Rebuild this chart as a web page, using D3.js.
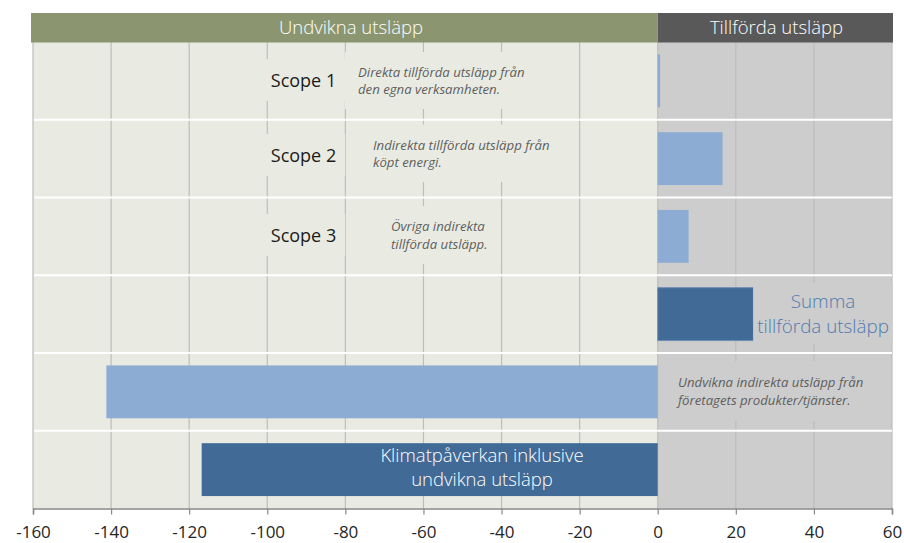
<!DOCTYPE html>
<html><head><meta charset="utf-8">
<script src="https://cdn.jsdelivr.net/npm/d3@7"></script>
<style>body{margin:0;background:#fff}svg{display:block}text{font-family:"Open Sans","Noto Sans",sans-serif}</style>
</head><body><svg id="c" width="904" height="543"></svg>
<script>
const categories = ["Scope 1","Scope 2","Scope 3","Summa","Undvikna","Klimat"];
const values = [0.6, 16.6, 7.9, 24.5, -141.2, -116.8];
const barKind = ["light","light","light","dark","light","dark"];
const tickValues = [-160,-140,-120,-100,-80,-60,-40,-20,0,20,40,60];
const headerLabels = ["Undvikna utsläpp","Tillförda utsläpp"];
const scopeLabels = ["Scope 1","Scope 2","Scope 3"];
const noteLines = [
  ["Direkta tillförda utsläpp från","den egna verksamheten."],
  ["Indirekta tillförda utsläpp från","köpt energi."],
  ["Övriga indirekta","tillförda utsläpp."],
  ["Undvikna indirekta utsläpp från","företagets produkter/tjänster."]
];
const summaLines = ["Summa","tillförda utsläpp"];
const klimatLines = ["Klimatpåverkan inklusive","undvikna utsläpp"];

const C = {green:"#E9EBE2", gray:"#CDCDCD", hGreen:"#8B9670", hGray:"#595959",
  light:"#8CACD3", dark:"#416A96", grid:"#BDBDBD", note:"#5E5E5E", blueText:"#4F7BAF"};

const svg = d3.select("#c");
const x = d3.scaleLinear().domain([-160,60]).range([33,892]);
const y = d3.scaleBand().domain(categories).range([42,508.5]);
const bw = y.bandwidth();

// panels
svg.append("rect").attr("x",x(-160)).attr("y",42).attr("width",x(0)-x(-160)).attr("height",508.5-42).attr("fill",C.green);
svg.append("rect").attr("x",x(0)).attr("y",42).attr("width",x(60)-x(0)).attr("height",508.5-42).attr("fill",C.gray);

// gridlines
svg.append("g").selectAll("line").data(tickValues).join("line")
  .attr("x1",d=>x(d)).attr("x2",d=>x(d)).attr("y1",42).attr("y2",508.5)
  .attr("stroke",C.grid).attr("stroke-width",1.2);

// row separators
svg.append("g").selectAll("line").data(categories.slice(1)).join("line")
  .attr("x1",x(-160)+1).attr("x2",x(60)).attr("y1",d=>y(d)).attr("y2",d=>y(d))
  .attr("stroke","#fff").attr("stroke-width",2);

// header
svg.append("rect").attr("x",x(-160)-2).attr("y",13).attr("width",x(0)-x(-160)+2).attr("height",29.5).attr("fill",C.hGreen);
svg.append("rect").attr("x",x(0)).attr("y",13).attr("width",x(60)-x(0)+1).attr("height",29.5).attr("fill",C.hGray);
svg.append("text").attr("x",351).attr("y",34).attr("text-anchor","middle").attr("fill","#fff").attr("font-size",18.5).attr("font-weight",300).text(headerLabels[0]);
svg.append("text").attr("x",776.5).attr("y",34).attr("text-anchor","middle").attr("fill","#fff").attr("font-size",18.5).attr("font-weight",300).text(headerLabels[1]);

// bars
svg.append("g").selectAll("rect").data(categories).join("rect")
  .attr("x",(d,i)=>x(Math.min(0,values[i])))
  .attr("width",(d,i)=>Math.abs(x(values[i])-x(0)))
  .attr("y",d=>y(d)+bw*0.16).attr("height",bw*0.68)
  .attr("fill",(d,i)=>C[barKind[i]])
  .attr("stroke",(d,i)=>i===3?"#6C8DB5":"none").attr("stroke-width",1);

// text with masking boxes
function textBlock(lines, opts){
  const lh = opts.lh||0;
  const g = svg.append("g");
  const bg = g.append("rect").attr("fill",opts.bg||"none");
  const t = g.append("text").attr("fill",opts.fill).attr("font-size",opts.size)
    .attr("font-style",opts.italic?"italic":null).attr("font-weight",opts.weight||null)
    .attr("text-anchor",opts.anchor||"start");
  lines.forEach((l,i)=>t.append("tspan").attr("x",opts.x).attr("y",opts.y+i*lh).text(l));
  if(opts.bg){
    const b = t.node().getBBox();
    const px = opts.px||8, py = opts.py||10;
    bg.attr("x",b.x-px).attr("y",b.y-py).attr("width",b.width+2*px).attr("height",b.height+2*py);
  }
}
const scopeY = [87,162,242];
scopeLabels.forEach((s,i)=>textBlock([s],{x:303.5,y:scopeY[i],anchor:"middle",size:18,fill:"#1a1a1a",bg:C.green,px:9,py:9}));
textBlock(noteLines[0],{x:358,y:77,lh:17,size:13.2,italic:true,fill:C.note,bg:C.green,px:13,py:11});
textBlock(noteLines[1],{x:373,y:149.5,lh:17.5,size:13.2,italic:true,fill:C.note,bg:C.green,px:13,py:11});
textBlock(noteLines[2],{x:391,y:231,lh:18,size:13.2,italic:true,fill:C.note,bg:C.green,px:13,py:11});
textBlock(noteLines[3],{x:678,y:387,lh:18,size:13.2,italic:true,fill:C.note,bg:C.gray,px:10,py:12});
textBlock(summaLines,{x:823,y:308,lh:24.5,size:18.8,anchor:"middle",fill:C.blueText,bg:C.gray,px:4,py:5,weight:300});
textBlock(klimatLines,{x:482,y:462,lh:24,size:18.5,anchor:"middle",fill:"#fff",weight:300});

// axis
const ax = svg.append("g").attr("transform","translate(0,508.5)")
  .call(d3.axisBottom(x).tickValues(tickValues).tickSize(6).tickPadding(11).tickFormat(d=>String(d)));
ax.select(".domain").attr("stroke","#888").attr("stroke-width",1.5);
ax.selectAll(".tick line").attr("stroke","#888").attr("stroke-width",1.2);
ax.selectAll(".tick text").attr("font-size",17).attr("fill","#262626").attr("font-family","'Open Sans','Noto Sans',sans-serif");
</script></body></html>
